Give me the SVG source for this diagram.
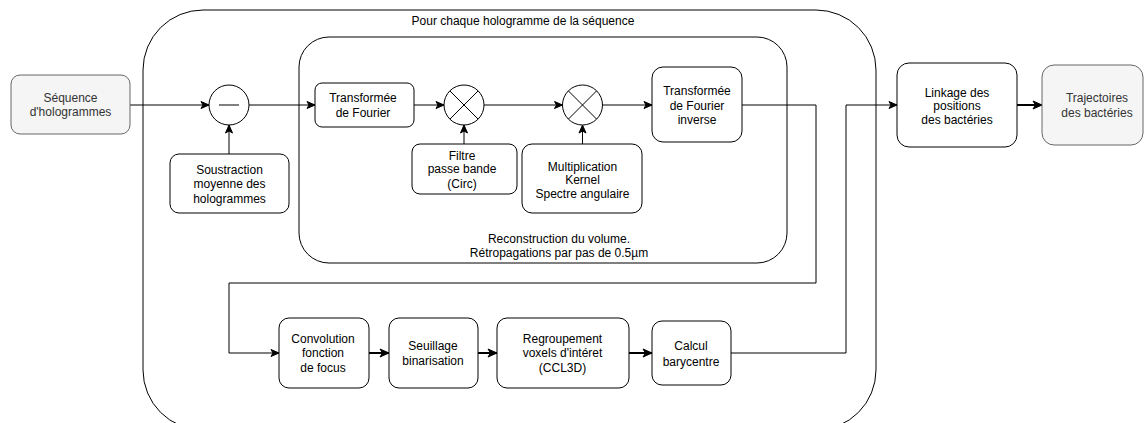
<svg xmlns="http://www.w3.org/2000/svg" width="1145" height="423" viewBox="0 0 1145 423">
<style>
  text { font-family: "Liberation Sans", Arial, sans-serif; font-size: 12px; fill: #000; text-anchor: middle; }
  .box { fill: #fff; stroke: #000; stroke-width: 1; }
  .grey { fill: #f5f5f5; stroke: #666; stroke-width: 1; }
  .grey-t { fill: #333; }
  .cont { fill: none; stroke: #000; stroke-width: 1; }
  .edge { fill: none; stroke: #000; stroke-width: 1; marker-end: url(#arrow); }
  .bold { fill: none; stroke: #000; stroke-width: 2; marker-end: url(#arrowb); }
  .sym { fill: none; stroke: #000; stroke-width: 1; }
</style>
<defs>
  <marker id="arrow" markerUnits="userSpaceOnUse" markerWidth="10" markerHeight="10" viewBox="0 0 10 10" refX="9" refY="5" orient="auto">
    <path d="M1,1.5 L9,5 L1,8.5 L3,5 Z" fill="#000" stroke="#000" stroke-width="1"/>
  </marker>
  <marker id="arrowb" markerUnits="userSpaceOnUse" markerWidth="11" markerHeight="11" viewBox="0 0 11 11" refX="10" refY="5.5" orient="auto">
    <path d="M1,1.5 L10,5.5 L1,9.5 L3.5,5.5 Z" fill="#000" stroke="#000" stroke-width="1"/>
  </marker>
</defs>
<rect width="1145" height="423" fill="#fff"/>

<g id="outer-container">
  <rect class="cont" x="143" y="10" width="733" height="420" rx="60" ry="60"/>
  <text x="523" y="25">Pour chaque hologramme de la séquence</text>
</g>
<g id="reconstruction-container">
  <rect class="cont" x="299" y="37" width="488" height="226" rx="30" ry="30"/>
  <text x="559" y="243">Reconstruction du volume.</text>
  <text x="559" y="257">Rétropagations par pas de 0.5µm</text>
</g>

<g id="connectors">
  <path class="edge" d="M130,105 H209"/>
  <path class="edge" d="M249,105 H315"/>
  <path class="edge" d="M229,154 V125"/>
  <path class="edge" d="M414,105 H444"/>
  <path class="edge" d="M464,144 V125"/>
  <path class="edge" d="M484,105 H562.5"/>
  <path class="edge" d="M582.5,144 V125"/>
  <path class="edge" d="M602.5,105 H652"/>
  <path class="edge" d="M742,105 H816 V283 H229 V353 H279"/>
  <path class="bold" d="M369,353 H389"/>
  <path class="bold" d="M478,353 H497"/>
  <path class="bold" d="M629,353 H652"/>
  <path class="edge" d="M731,353 H846 V105 H897"/>
  <path class="bold" d="M1017,105 H1042"/>
</g>

<g id="sequence">
  <rect class="grey" x="11" y="75" width="119" height="59" rx="9"/>
  <text class="grey-t" x="70.5" y="102">Séquence</text>
  <text class="grey-t" x="70.5" y="116">d'hologrammes</text>
</g>
<g id="minus">
  <circle class="box" cx="229" cy="105" r="20"/>
  <line class="sym" x1="219" y1="105" x2="239" y2="105"/>
</g>
<g id="soustraction">
  <rect class="box" x="170" y="154" width="119" height="59" rx="9"/>
  <text x="229.5" y="174">Soustraction</text>
  <text x="229.5" y="188">moyenne des</text>
  <text x="229.5" y="203">hologrammes</text>
</g>
<g id="tf">
  <rect class="box" x="315" y="83" width="99" height="44" rx="7"/>
  <text x="363" y="102">Transformée</text>
  <text x="363" y="117">de Fourier</text>
</g>
<g id="mult1">
  <circle class="box" cx="464" cy="105" r="20"/>
  <line class="sym" x1="449.9" y1="90.9" x2="478.1" y2="119.1"/>
  <line class="sym" x1="478.1" y1="90.9" x2="449.9" y2="119.1"/>
</g>
<g id="filtre">
  <rect class="box" x="412" y="144" width="105" height="50" rx="8"/>
  <text x="462" y="160">Filtre</text>
  <text x="462" y="173">passe bande</text>
  <text x="462" y="188">(Circ)</text>
</g>
<g id="mult2">
  <circle class="box" cx="582.5" cy="105" r="20"/>
  <line class="sym" x1="568.4" y1="90.9" x2="596.6" y2="119.1"/>
  <line class="sym" x1="596.6" y1="90.9" x2="568.4" y2="119.1"/>
</g>
<g id="multiplication">
  <rect class="box" x="522" y="144" width="120" height="69" rx="10"/>
  <text x="582.5" y="171">Multiplication</text>
  <text x="582.5" y="184">Kernel</text>
  <text x="582.5" y="198">Spectre angulaire</text>
</g>
<g id="tf-inverse">
  <rect class="box" x="652" y="67" width="90" height="75" rx="11"/>
  <text x="697" y="95">Transformée</text>
  <text x="697" y="110">de Fourier</text>
  <text x="697" y="124">inverse</text>
</g>
<g id="convolution">
  <rect class="box" x="279" y="318" width="90" height="70" rx="10"/>
  <text x="323" y="343">Convolution</text>
  <text x="323" y="357">fonction</text>
  <text x="323" y="372">de focus</text>
</g>
<g id="seuillage">
  <rect class="box" x="389" y="318" width="89" height="70" rx="10"/>
  <text x="433" y="350">Seuillage</text>
  <text x="433" y="365">binarisation</text>
</g>
<g id="regroupement">
  <rect class="box" x="497" y="318" width="132" height="70" rx="10"/>
  <text x="562.5" y="343">Regroupement</text>
  <text x="562.5" y="357">voxels d'intéret</text>
  <text x="562.5" y="372">(CCL3D)</text>
</g>
<g id="calcul">
  <rect class="box" x="652" y="321" width="79" height="64" rx="10"/>
  <text x="691" y="350">Calcul</text>
  <text x="691" y="366">barycentre</text>
</g>
<g id="linkage">
  <rect class="box" x="897" y="63" width="120" height="84" rx="12"/>
  <text x="957" y="97">Linkage des</text>
  <text x="957" y="110">positions</text>
  <text x="957" y="124">des bactéries</text>
</g>
<g id="trajectoires">
  <rect class="grey" x="1042" y="65" width="101" height="80" rx="12"/>
  <text class="grey-t" x="1097" y="102">Trajectoires</text>
  <text class="grey-t" x="1097" y="117">des bactéries</text>
</g>
</svg>
